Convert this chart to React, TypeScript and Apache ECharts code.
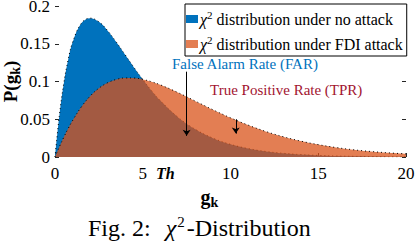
import React, { useEffect, useRef } from "react";
import * as echarts from "echarts";

const xValues = [0, 0.25, 0.5, 0.75, 1, 1.5, 2, 2.5, 3, 3.5, 4, 4.5, 5, 5.5, 6, 7, 8, 9, 10, 11, 12, 13, 14, 15, 16, 17, 18, 19, 20];
const noAttack = [0, 0.0552, 0.0974, 0.1289, 0.1516, 0.1771, 0.1839, 0.1791, 0.1673, 0.152, 0.1353, 0.1186, 0.1026, 0.0879, 0.0747, 0.0528, 0.0366, 0.025, 0.0168, 0.0112, 0.0074, 0.0049, 0.0032, 0.0021, 0.0013, 0.0009, 0.0006, 0.0004, 0.0002];
const fdiAttack = [0, 0.0135, 0.0261, 0.0376, 0.0482, 0.0663, 0.0806, 0.0911, 0.0984, 0.1028, 0.1047, 0.1046, 0.1028, 0.0997, 0.0956, 0.0854, 0.074, 0.0626, 0.0519, 0.0423, 0.0339, 0.0269, 0.0211, 0.0164, 0.0126, 0.0096, 0.0073, 0.0055, 0.0041];
const seriesNames = ["no attack", "FDI attack"];
const farArrow = { x: 7.5, from: 0.113, to: 0.028 };
const tprArrow = { x: 10.3, from: 0.05, to: 0.031 };

const FONT = "Liberation Serif, serif";

export default function App() {
  const ref = useRef<HTMLDivElement>(null);
  useEffect(() => {
    if (!ref.current) return;
    const chart = echarts.init(ref.current, undefined, { renderer: "svg" });
    const pts = (ys: number[]) => xValues.map((x, i) => [x, ys[i]]);
    const edge = { color: "#000", width: 1, type: [1, 3] as any };
    chart.setOption({
      animation: false,
      textStyle: { fontFamily: FONT },
      legend: {
        data: seriesNames,
        orient: "vertical",
        left: 185,
        top: 4,
        padding: [5, 4, 4, 1],
        itemGap: 7,
        itemWidth: 12,
        itemHeight: 8,
        icon: "rect",
        backgroundColor: "#fff",
        borderColor: "#000",
        borderWidth: 1,
        borderRadius: 0,
        formatter: (name: string) => `{chi|χ}{sup|2}{t| distribution under ${name}}`,
        textStyle: {
          fontFamily: FONT,
          fontSize: 16,
          color: "#000",
          lineHeight: 16,
          padding: [0, 0, 0, -3],
          rich: {
            t: { fontFamily: FONT, fontSize: 16, color: "#000" },
            chi: { fontFamily: FONT, fontSize: 16, color: "#000", fontStyle: "italic" },
            sup: { fontFamily: FONT, fontSize: 11, color: "#000", padding: [0, 0, 9, 0] },
          },
        },
      },
      grid: { left: 55, right: 10, top: 6, bottom: 87, outerBoundsMode: "none", containLabel: false },
      xAxis: {
        type: "value",
        min: 0,
        max: 20,
        interval: 5,
        name: "{g|g}{k|k}",
        nameLocation: "middle",
        nameGap: 28,
        nameMoveOverlap: false,
        nameTextStyle: {
          fontFamily: FONT,
          fontSize: 20,
          fontWeight: "bold",
          color: "#000",
          padding: [0, 42, 0, 0],
          rich: {
            g: { fontFamily: FONT, fontSize: 20, fontWeight: "bold", color: "#000" },
            k: { fontFamily: FONT, fontSize: 14, fontWeight: "bold", color: "#000", padding: [10, 0, 0, 0] },
          },
        },
        axisLine: { show: false },
        axisTick: { show: true, inside: true, length: 4, lineStyle: { color: "#262626" } },
        axisLabel: { fontFamily: FONT, fontSize: 17, color: "#000", margin: 8 },
        splitLine: { show: false },
      },
      yAxis: [
        {
          type: "value",
          min: 0,
          max: 0.2,
          interval: 0.05,
          name: "{g|P(g}{k|k}{g|)}",
          nameLocation: "middle",
          nameGap: 33,
          nameRotate: 90,
          nameMoveOverlap: false,
          nameTextStyle: {
            fontFamily: FONT,
            fontSize: 19,
            fontWeight: "bold",
            color: "#000",
            rich: {
              g: { fontFamily: FONT, fontSize: 19, fontWeight: "bold", color: "#000" },
              k: { fontFamily: FONT, fontSize: 14, fontWeight: "bold", color: "#000", padding: [10, 0, 0, 0] },
            },
          },
          axisLine: { show: false },
          axisTick: { show: true, inside: true, length: 4, lineStyle: { color: "#262626" } },
          axisLabel: { fontFamily: FONT, fontSize: 17, color: "#000", margin: 5 },
          splitLine: { show: false },
        },
        {
          type: "value",
          min: 0,
          max: 0.2,
          interval: 0.05,
          position: "right",
          axisLine: { show: false },
          axisTick: { show: true, inside: true, length: 4, lineStyle: { color: "#262626" } },
          axisLabel: { show: false },
          splitLine: { show: false },
        },
      ],
      series: [
        {
          name: seriesNames[0],
          type: "line",
          data: pts(noAttack),
          smooth: 0.4,
          showSymbol: false,
          symbol: "none",
          color: "#0072BD",
          lineStyle: edge,
          areaStyle: { color: "#0072BD", opacity: 1 },
          z: 2,
        },
        {
          name: seriesNames[1],
          type: "line",
          data: pts(fdiAttack),
          smooth: 0.4,
          showSymbol: false,
          symbol: "none",
          color: "rgba(217,83,25,0.75)",
          lineStyle: edge,
          areaStyle: { color: "rgba(217,83,25,0.75)", opacity: 1 },
          z: 3,
          markLine: {
            silent: true,
            symbol: ["none", "arrow"],
            symbolSize: 6,
            label: { show: false },
            lineStyle: { color: "#000", width: 1, type: "solid" },
            data: [
              [{ coord: [farArrow.x, farArrow.from] }, { coord: [farArrow.x, farArrow.to] }],
              [{ coord: [tprArrow.x, tprArrow.from] }, { coord: [tprArrow.x, tprArrow.to] }],
            ],
          },
        },
      ],
      graphic: [
        {
          type: "text",
          left: 172,
          top: 56,
          z: 10,
          style: { text: "False Alarm Rate (FAR)", fontFamily: FONT, fontSize: 15, fill: "#0072BD" },
        },
        {
          type: "text",
          left: 210,
          top: 82,
          z: 10,
          style: { text: "True Positive Rate (TPR)", fontFamily: FONT, fontSize: 15, fill: "#A2142F" },
        },
        {
          type: "text",
          left: 156,
          top: 165,
          z: 10,
          style: { text: "Th", fontFamily: FONT, fontSize: 16, fontWeight: "bold", fontStyle: "italic", fill: "#000" },
        },
        {
          type: "text",
          left: 88,
          top: 214,
          z: 10,
          style: {
            text: "{t|Fig. 2:}{chi|χ}{sup|2}{t|-Distribution}",
            fill: "#000",
            rich: {
              t: { fontFamily: FONT, fontSize: 24, fill: "#000" },
              chi: { fontFamily: FONT, fontSize: 24, fill: "#000", fontStyle: "italic", padding: [0, 0, 0, 15] },
              sup: { fontFamily: FONT, fontSize: 15, fill: "#000", padding: [0, 2, 13, 1] },
            },
          },
        },
      ],
    });
    return () => chart.dispose();
  }, []);
  return <div ref={ref} style={{ width: 416, height: 244, position: "absolute", left: 0, top: 0 }} />;
}
